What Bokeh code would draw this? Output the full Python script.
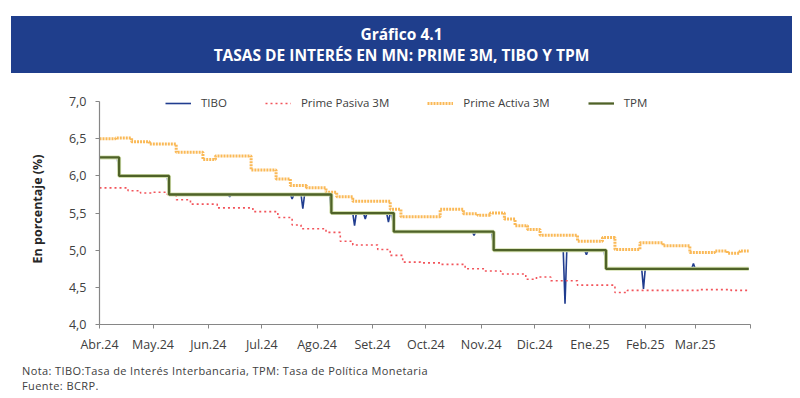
import pandas as pd
from bokeh.plotting import figure
from bokeh.layouts import column
from bokeh.models import Range1d, FixedTicker, Legend, LegendItem, CustomJSTickFormatter, Div
from bokeh.embed import file_html
from bokeh.resources import INLINE

# ---------------- data ----------------
month_ticks = ["2024-04-01", "2024-05-01", "2024-06-01", "2024-07-01", "2024-08-01", "2024-09-01",
               "2024-10-01", "2024-11-01", "2024-12-01", "2025-01-01", "2025-02-01", "2025-03-01",
               "2025-04-01"]
month_labels = ["Abr.24", "May.24", "Jun.24", "Jul.24", "Ago.24", "Set.24", "Oct.24", "Nov.24",
                "Dic.24", "Ene.25", "Feb.25", "Mar.25", ""]
y_ticks = [4.0, 4.5, 5.0, 5.5, 6.0, 6.5, 7.0]

tibo_dates = ["2024-04-01", "2024-04-11", "2024-04-12", "2024-05-09", "2024-05-10", "2024-06-12",
              "2024-06-13", "2024-06-14", "2024-07-17", "2024-07-18", "2024-07-19", "2024-07-23",
              "2024-07-24", "2024-07-25", "2024-08-08", "2024-08-09", "2024-08-21", "2024-08-22",
              "2024-08-23", "2024-08-27", "2024-08-28", "2024-08-29", "2024-09-09", "2024-09-10",
              "2024-09-11", "2024-09-12", "2024-09-13", "2024-10-27", "2024-10-28", "2024-10-29",
              "2024-11-07", "2024-11-08", "2024-12-17", "2024-12-18", "2024-12-19", "2024-12-29",
              "2024-12-30", "2024-12-31", "2025-01-09", "2025-01-10", "2025-01-30", "2025-01-31",
              "2025-02-01", "2025-02-27", "2025-02-28", "2025-03-01", "2025-03-31"]
tibo_values = [6.25, 6.25, 6.00, 6.00, 5.75, 5.75,
               5.72, 5.75, 5.75, 5.69, 5.75, 5.75,
               5.56, 5.75, 5.75, 5.50, 5.50, 5.33,
               5.50, 5.50, 5.42, 5.50, 5.50, 5.38,
               5.50, 5.50, 5.25, 5.25, 5.20, 5.25,
               5.25, 5.00, 5.00, 4.28, 5.00, 5.00,
               4.94, 5.00, 5.00, 4.75, 4.75, 4.48,
               4.75, 4.75, 4.82, 4.75, 4.75]

pasiva_dates = ["2024-04-01", "2024-04-17", "2024-04-24", "2024-05-01", "2024-05-09", "2024-05-14",
                "2024-05-22", "2024-06-06", "2024-06-26", "2024-07-10", "2024-07-18", "2024-07-23",
                "2024-08-06", "2024-08-14", "2024-08-21", "2024-09-04", "2024-09-11", "2024-09-18",
                "2024-09-28", "2024-10-09", "2024-10-23", "2024-11-03", "2024-11-12", "2024-11-26",
                "2024-12-02", "2024-12-10", "2024-12-25", "2025-01-15", "2025-01-22", "2025-03-04",
                "2025-03-21", "2025-03-31"]
pasiva_values = [5.84, 5.80, 5.77, 5.78, 5.75, 5.68,
                 5.62, 5.57, 5.52, 5.44, 5.34, 5.29,
                 5.24, 5.12, 5.07, 5.01, 4.93, 4.84,
                 4.83, 4.81, 4.75, 4.72, 4.68, 4.61,
                 4.64, 4.59, 4.53, 4.43, 4.46, 4.47,
                 4.46, 4.46]

activa_dates = ["2024-04-01", "2024-04-10", "2024-04-19", "2024-04-29", "2024-05-14", "2024-05-29",
                "2024-06-05", "2024-06-25", "2024-07-09", "2024-07-17", "2024-07-26", "2024-08-06",
                "2024-08-12", "2024-08-21", "2024-09-11", "2024-09-17", "2024-10-09", "2024-10-22",
                "2024-10-30", "2024-11-06", "2024-11-14", "2024-11-20", "2024-11-27", "2024-12-04",
                "2024-12-25", "2025-01-08", "2025-01-15", "2025-01-29", "2025-02-11", "2025-02-26",
                "2025-03-12", "2025-03-19", "2025-03-26", "2025-03-31"]
activa_values = [6.50, 6.51, 6.46, 6.43, 6.32, 6.22,
                 6.27, 6.08, 5.96, 5.87, 5.84, 5.78,
                 5.72, 5.66, 5.55, 5.45, 5.55, 5.49,
                 5.47, 5.50, 5.42, 5.33, 5.28, 5.20,
                 5.12, 5.17, 5.01, 5.10, 5.06, 4.97,
                 4.99, 4.96, 4.99, 4.99]

tpm_dates = ["2024-04-01", "2024-04-12", "2024-05-10", "2024-08-09", "2024-09-13", "2024-11-08",
             "2025-01-10", "2025-03-31"]
tpm_values = [6.25, 6.00, 5.75, 5.50, 5.25, 5.00, 4.75, 4.75]

title_1 = "Gráfico 4.1"
title_2 = "TASAS DE INTERÉS EN MN: PRIME 3M, TIBO Y TPM"
y_title = "En porcentaje (%)"
note_1 = "Nota: TIBO:Tasa de Interés Interbancaria, TPM: Tasa de Política Monetaria"
note_2 = "Fuente: BCRP."

# ---------------- styling ----------------
FONT = "Open Sans"
TXT = "#404040"
AX = "#868686"
W = 800
H_TOP, H_MAIN, H_FOOT = 80, 275, 43

# banner (HTML block)
banner_html = (
    '<div style="margin:16px 0 0 11px;width:781px;height:57px;background:#1F3E8C;'
    'color:#ffffff;text-align:center;font-family:\'Open Sans\',sans-serif;font-weight:bold;'
    'font-size:15.5px;line-height:21px;padding-top:8px;box-sizing:border-box;">'
    f'{title_1}<br>{title_2}</div>'
)
top = Div(text=banner_html, width=W, height=H_TOP, margin=(0, 0, 0, 0))

# main chart
p = figure(width=W, height=H_MAIN, output_backend="svg", toolbar_location=None,
           x_axis_type="datetime",
           x_range=Range1d(pd.Timestamp("2024-04-01"), pd.Timestamp("2025-04-01")),
           y_range=Range1d(4.0, 7.11),
           min_border_left=99, min_border_right=50, min_border_top=13, min_border_bottom=31)
p.outline_line_color = None
p.grid.visible = False

to_dt = pd.to_datetime
r_tibo = p.line(to_dt(tibo_dates), tibo_values, line_color="#213D8F", line_width=1.6)
r_pas = p.step(to_dt(pasiva_dates), pasiva_values, mode="after", line_color="#F2545B",
               line_width=1.6, line_dash="2 3")
r_act = p.step(to_dt(activa_dates), activa_values, mode="after", line_color="#FAB957",
               line_width=3, line_dash="2 1")
p.step(to_dt(tpm_dates), tpm_values, mode="after", line_color="#D3E0AE", line_width=4)
r_tpm = p.step(to_dt(tpm_dates), tpm_values, mode="after", line_color="#4F6228", line_width=2.3)

tick_ms = [int(pd.Timestamp(d).value // 10**6) for d in month_ticks]
p.xaxis.ticker = FixedTicker(ticks=tick_ms)
p.xaxis.major_label_overrides = {t: l for t, l in zip(tick_ms, month_labels)}
p.yaxis.ticker = FixedTicker(ticks=y_ticks)
p.yaxis.bounds = (4.0, 7.0)
p.yaxis.formatter = CustomJSTickFormatter(code="return tick.toFixed(1).replace('.', ',');")
for ax in (p.xaxis, p.yaxis):
    ax.axis_line_color = AX
    ax.axis_line_width = 1.2
    ax.major_tick_line_color = AX
    ax.major_tick_out = 4
    ax.major_tick_in = 0
    ax.minor_tick_line_color = None
    ax.major_label_text_font = FONT
    ax.major_label_text_font_size = "12.5px"
    ax.major_label_text_color = TXT
p.xaxis.major_label_standoff = 7
p.yaxis.major_label_standoff = 9
p.yaxis.axis_label = y_title
p.yaxis.axis_label_text_font = FONT
p.yaxis.axis_label_text_font_style = "bold"
p.yaxis.axis_label_text_font_size = "12.5px"
p.yaxis.axis_label_text_color = "#262626"
p.yaxis.axis_label_standoff = 20

# legend: location = (left, bottom) relative to the frame's lower-left corner
legend = Legend(items=[LegendItem(label="TIBO", renderers=[r_tibo]),
                       LegendItem(label="Prime Pasiva 3M", renderers=[r_pas]),
                       LegendItem(label="Prime Activa 3M", renderers=[r_act]),
                       LegendItem(label="TPM", renderers=[r_tpm])],
                orientation="horizontal", location=(66, 214),
                glyph_width=26, glyph_height=14, label_height=14, label_standoff=10,
                spacing=38, padding=0, margin=0,
                label_text_font=FONT, label_text_font_size="11.5px", label_text_color=TXT,
                background_fill_alpha=0, border_line_alpha=0)
p.add_layout(legend, "center")

# footer (HTML block)
foot_html = (
    f'<div style="margin:7.5px 0 0 22px;color:{TXT};font-family:\'Open Sans\',sans-serif;'
    f'font-size:11px;line-height:15px;letter-spacing:0.4px;white-space:nowrap;">'
    f'{note_1}<br>{note_2}</div>'
)
foot = Div(text=foot_html, width=W, height=H_FOOT, margin=(0, 0, 0, 0))

layout = column(top, p, foot, spacing=0)
open("out.html", "w").write(file_html(layout, INLINE))
